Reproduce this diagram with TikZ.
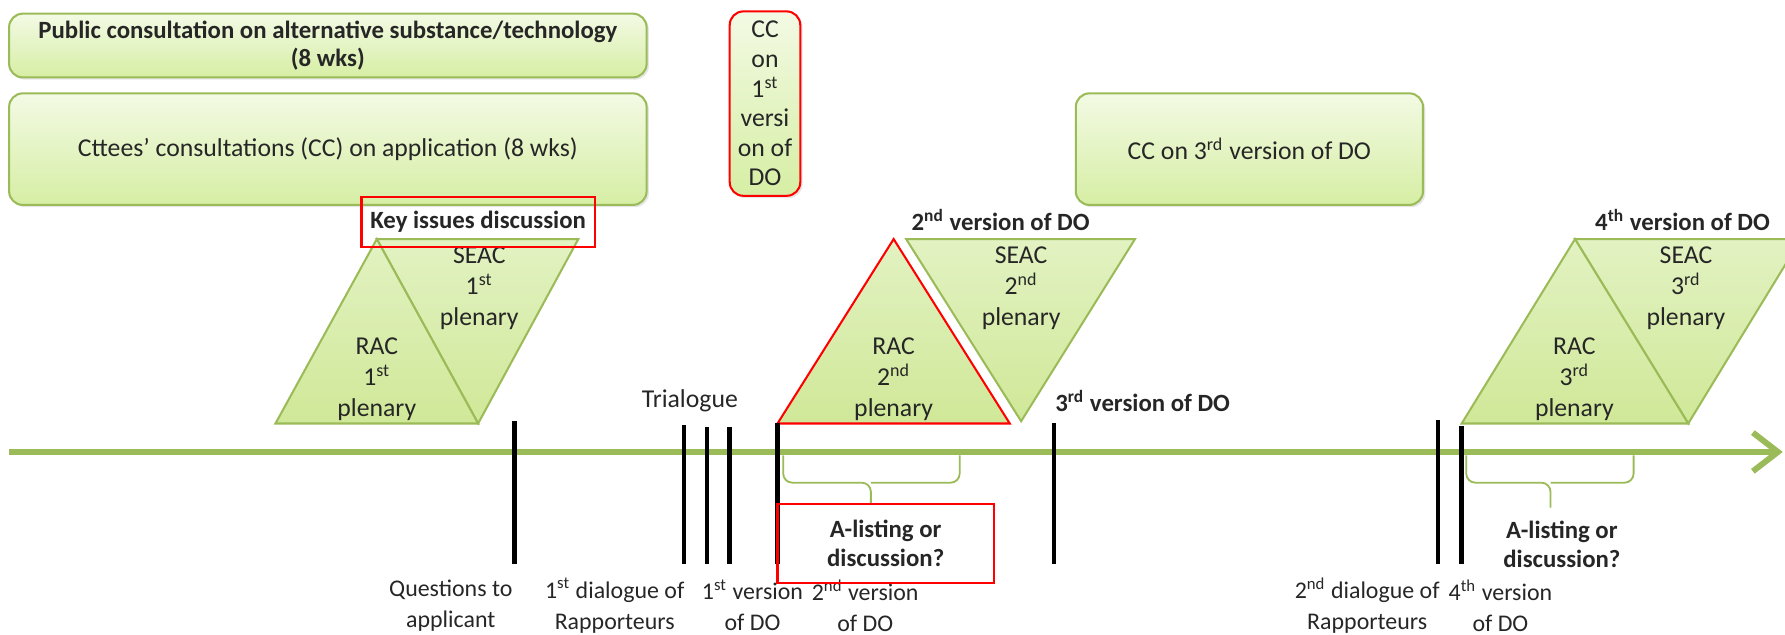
\documentclass[tikz,border=0pt]{standalone}
\usepackage{fontspec}
\setmainfont{Carlito}
\usetikzlibrary{arrows.meta,shadows}

\definecolor{olive}{RGB}{155,187,89}
\definecolor{boxtop}{RGB}{243,250,228}
\definecolor{boxbot}{RGB}{214,238,164}
\definecolor{tritop}{RGB}{226,242,194}
\definecolor{tribot}{RGB}{208,232,152}

\tikzset{
  phase/.style={draw=olive, line width=0.9pt, rounded corners=6pt, top color=boxtop, bottom color=boxbot,
    drop shadow={opacity=0.2, shadow xshift=1pt, shadow yshift=-1pt}, align=center, inner sep=1pt},
  redphase/.style={phase, draw=red},
  plenary/.style={draw=olive, line width=0.9pt, top color=tritop, bottom color=tribot, line join=miter},
  plentext/.style={align=center},
  marker/.style={line width=2pt, black},
  timeline/.style={draw=olive, line width=2.6pt, -{Straight Barb[length=11pt,width=17pt]}},
  lbl/.style={align=center, font=\fontsize{10.5}{13.6}\selectfont},
  note/.style={align=center, font=\fontsize{10.9}{12.5}\selectfont\bfseries},
  redframe/.style={draw=red, line width=1pt},
  brace line/.style={draw=olive, line width=0.8pt, rounded corners=4pt}
}

\begin{document}
\begin{tikzpicture}[x=0.5pt, y=-0.5pt, font=\fontsize{11.3}{13.5}\selectfont, text=black!85]
  \useasboundingbox (0,0) rectangle (1568,557);

  \node[phase, minimum width=280pt, minimum height=28pt, font=\fontsize{10.9}{12.5}\selectfont\bfseries] (pubcons) at (288,40) {Public consultation on alternative substance/technology\\(8 wks)};
  \node[phase, minimum width=280pt, minimum height=49pt] (cttees) at (288,131) {Cttees’ consultations (CC) on application (8 wks)};
  \node[redphase, minimum width=31pt, minimum height=81pt, font=\fontsize{11.3}{13}\selectfont] (ccfirst) at (672,91) {CC\\on\\1\textsuperscript{st}\\versi\\on of\\DO};
  \node[phase, minimum width=152.5pt, minimum height=49pt] (ccthird) at (1097.5,131) {CC on 3\textsuperscript{rd} version of DO};

  \coordinate (tlstart) at (8,397);
  \coordinate (tlend) at (1566,397);
  \draw[timeline] (tlstart) -- (tlend);

  \path[plenary] (331,210) -- (508,210) -- (420,372) -- cycle;
  \path[plenary] (242,372) -- (331,210) -- (420,372) -- cycle;
  \path[plenary, draw=red] (683,372) -- (785,210) -- (887,372) -- cycle;
  \path[plenary] (796,210) -- (997,210) -- (897,370) -- cycle;
  \path[plenary] (1383.5,210) -- (1582,210) -- (1483,372) -- cycle;
  \path[plenary] (1284,372) -- (1383.5,210) -- (1483,372) -- cycle;

  \node[plentext] (rac1) at (331,333) {RAC\\1\textsuperscript{st}\\plenary};
  \node[plentext] (seac1) at (421,253) {SEAC\\1\textsuperscript{st}\\plenary};
  \node[plentext] (rac2) at (785,333) {RAC\\2\textsuperscript{nd}\\plenary};
  \node[plentext] (seac2) at (897,253) {SEAC\\2\textsuperscript{nd}\\plenary};
  \node[plentext] (rac3) at (1383,333) {RAC\\3\textsuperscript{rd}\\plenary};
  \node[plentext] (seac3) at (1481,253) {SEAC\\3\textsuperscript{rd}\\plenary};

  \node[note, redframe, minimum width=102.5pt, minimum height=22pt] (keyissues) at (420,195) {Key issues discussion};
  \node[note] (secondDO) at (879,193) {2\textsuperscript{nd} version of DO};
  \node[note, anchor=west] (thirdDO) at (920,352) {3\textsuperscript{rd} version of DO};
  \node[note] (fourthDO) at (1478,193) {4\textsuperscript{th} version of DO};
  \node (trialogue) at (606,352) {Trialogue};

  \draw[marker] (452,370) -- (452,495);
  \draw[marker] (601,373) -- (601,495);
  \draw[marker] (621,375) -- (621,495);
  \draw[marker] (641,375) -- (641,495);
  \draw[marker] (683,372) -- (683,495);
  \draw[marker] (926,372) -- (926,495);
  \draw[marker] (1263,369) -- (1263,495);
  \draw[marker] (1284,374) -- (1284,495);

  \node[lbl] (questions) at (396,532) {Questions to\\applicant};
  \node[lbl] (dialogue1) at (540,532) {1\textsuperscript{st} dialogue of\\Rapporteurs};
  \node[lbl] (version1) at (661,532) {1\textsuperscript{st} version\\of DO};
  \node[lbl] (version2) at (760,532) {2\textsuperscript{nd} version\\of DO};
  \node[lbl] (dialogue2) at (1201,532) {2\textsuperscript{nd} dialogue of\\Rapporteurs};
  \node[lbl] (version4) at (1318,532) {4\textsuperscript{th} version\\of DO};

  \draw[brace line] (688,400) |- (765,424) -- (765,443);
  \draw[brace line] (843,400) |- (765,424);
  \draw[brace line] (1288,400) |- (1362,424) -- (1362,446);
  \draw[brace line] (1435,400) |- (1362,424);

  \node[note, redframe, minimum width=95pt, minimum height=34.5pt] (alisting1) at (778,477.5) {A-listing or\\discussion?};
  \node[note] (alisting2) at (1372,478) {A-listing or\\discussion?};
\end{tikzpicture}
\end{document}
